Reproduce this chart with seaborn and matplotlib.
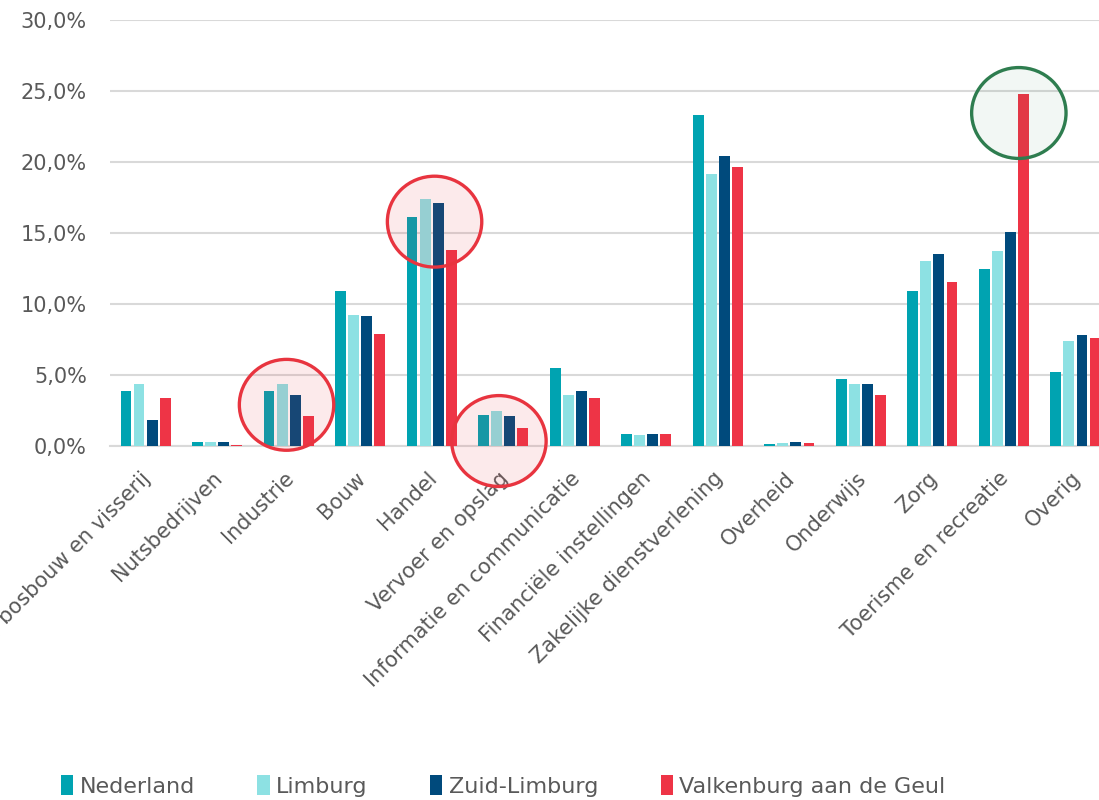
import pandas as pd
import seaborn as sns
import matplotlib.pyplot as plt
from matplotlib.colors import to_rgba
from matplotlib.patches import Ellipse
from matplotlib.ticker import FuncFormatter
from matplotlib.transforms import ScaledTranslation

# data (share of establishments per sector, %)
sectors = ['Landbouw, bosbouw en visserij', 'Nutsbedrijven', 'Industrie', 'Bouw', 'Handel',
           'Vervoer en opslag', 'Informatie en communicatie', 'Financiële instellingen',
           'Zakelijke dienstverlening', 'Overheid', 'Onderwijs', 'Zorg',
           'Toerisme en recreatie', 'Overig']
regions = ['Nederland', 'Limburg', 'Zuid-Limburg', 'Valkenburg aan de Geul']
nederland = [3.85, 0.25, 3.85, 10.95, 16.1, 2.2, 5.5, 0.85, 23.3, 0.15, 4.7, 10.9, 12.45, 5.2]
limburg = [4.35, 0.3, 4.35, 9.2, 17.4, 2.5, 3.6, 0.75, 19.15, 0.22, 4.35, 13.0, 13.7, 7.4]
zuid_limburg = [1.85, 0.28, 3.6, 9.15, 17.1, 2.1, 3.9, 0.85, 20.4, 0.25, 4.4, 13.5, 15.1, 7.8]
valkenburg = [3.4, 0.1, 2.1, 7.9, 13.8, 1.3, 3.4, 0.85, 19.65, 0.2, 3.6, 11.55, 24.8, 7.6]
colors = ['#00a3b1', '#8de1e3', '#004a7c', '#ee3446']

# highlighted groups: (sector, offset, y centre, colour)
highlights = [('Industrie', -0.03, 2.9, '#e8343f'),
              ('Handel', 0.04, 15.8, '#e8343f'),
              ('Vervoer en opslag', -0.06, 0.35, '#e8343f'),
              ('Toerisme en recreatie', 0.21, 23.45, '#2e7d4f')]

rows = []
for reg, vals in zip(regions, [nederland, limburg, zuid_limburg, valkenburg]):
    for s, v in zip(sectors, vals):
        rows.append({'sector': s, 'regio': reg, 'aandeel': v})
df = pd.DataFrame(rows)

sns.set_style('white')
plt.rcParams['font.family'] = ['DejaVu Sans']

fig = plt.figure(figsize=(10.99, 8), dpi=100)
ax = fig.add_axes([0.1, 0.4425, 0.911, 0.5325])

sns.barplot(data=df, x='sector', y='aandeel', hue='regio', palette=colors, saturation=1,
            width=0.73, gap=0.18, linewidth=0, ax=ax, zorder=3)

ax.set_ylim(0, 30)
ax.set_xlim(-0.5, len(sectors) - 0.5)
ax.set_yticks(range(0, 31, 5))
ax.yaxis.set_major_formatter(FuncFormatter(lambda v, p: f'{v:.1f}%'.replace('.', ',')))
ax.grid(axis='y', color='#d9d9d9', linewidth=1.5, zorder=0)
ax.set_axisbelow(True)
for side in ['top', 'right', 'left']:
    ax.spines[side].set_visible(False)
ax.spines['bottom'].set_color('#d9d9d9')
ax.spines['bottom'].set_linewidth(1.5)
ax.tick_params(axis='both', length=0, colors='#595959')
ax.tick_params(axis='y', pad=16.5, labelsize=15)
ax.tick_params(axis='x', pad=8, labelsize=15)
ax.set_xlabel('')
ax.set_ylabel('')
shift = ScaledTranslation(-0.05, -0.11, fig.dpi_scale_trans)
for lab in ax.get_xticklabels():
    lab.set_rotation(45)
    lab.set_ha('right')
    lab.set_va('top')
    lab.set_rotation_mode('anchor')
    lab.set_transform(lab.get_transform() + shift)

# circles around the highlighted groups
for s, off, yc, col in highlights:
    xc = sectors.index(s) + off
    fa = 0.06 if col == '#2e7d4f' else 0.1
    e = Ellipse((xc, yc), width=1.32, height=6.4, facecolor=to_rgba(col, fa), edgecolor=col,
                linewidth=2.4, zorder=5, clip_on=False)
    ax.add_patch(e)

ax.legend(loc='center', bbox_to_anchor=(0.458, 0.0175), bbox_transform=fig.transFigure,
          ncol=4, frameon=False, fontsize=16, handlelength=0.55, handleheight=1.0,
          handletextpad=0.3, columnspacing=2.8, labelcolor='#595959')

fig.savefig('out.png', dpi=100)
